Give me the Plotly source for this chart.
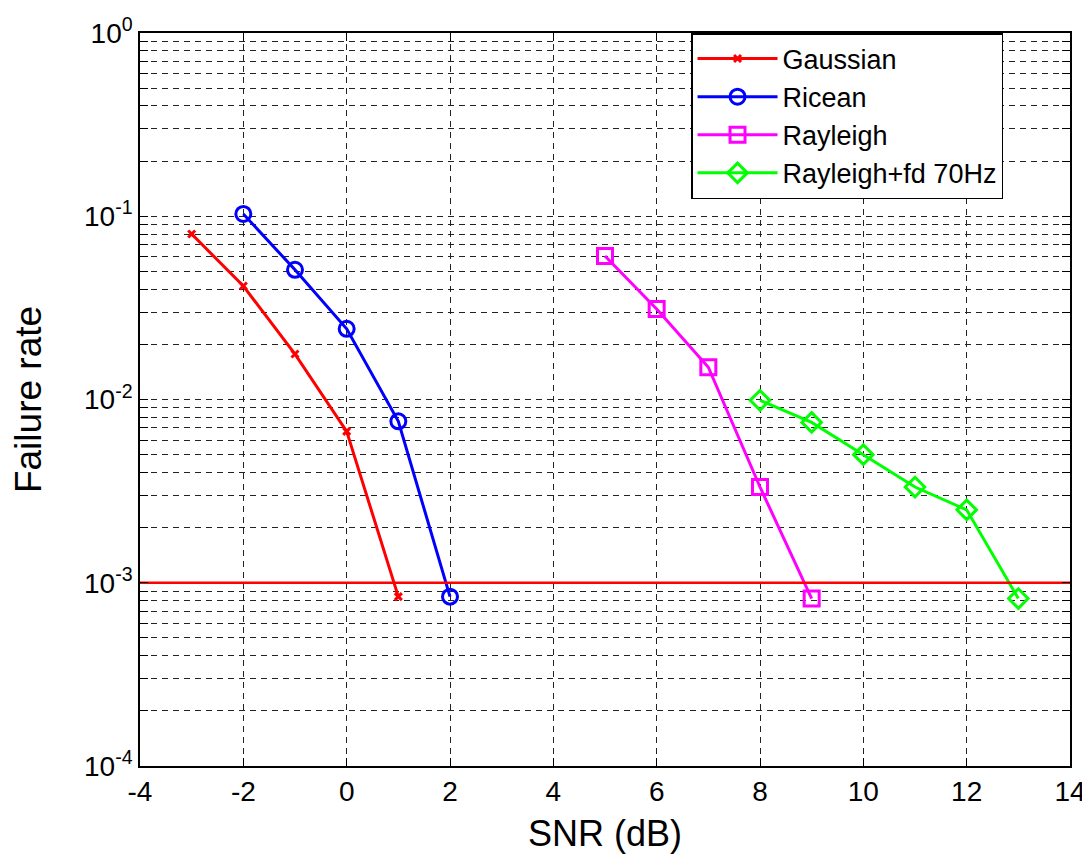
import plotly.graph_objects as go

snr_gauss = [-3, -2, -1, 0, 1]
fail_gauss = [0.080, 0.0416, 0.0177, 0.0067, 0.00084]
snr_ricean = [-2, -1, 0, 1, 2]
fail_ricean = [0.103, 0.051, 0.0243, 0.0076, 0.00084]
snr_rayleigh = [5, 6, 7, 8, 9]
fail_rayleigh = [0.0607, 0.0312, 0.015, 0.00333, 0.00082]
snr_fd = [8, 9, 10, 11, 12, 13]
fail_fd = [0.0099, 0.0075, 0.005, 0.00333, 0.0025, 0.00082]
threshold = 1e-3
x_ticks = [-4, -2, 0, 2, 4, 6, 8, 10, 12, 14]
x_ticklabels = ["-4", "-2", "0", "2", "4", "6", "8", "10", "12", "14"]
decades = [-4, -3, -2, -1, 0]

FONT = "Liberation Sans, Arial, sans-serif"

fig = go.Figure()
series = [
    ("Gaussian", snr_gauss, fail_gauss, "#ff0000", "x-thin-open", 7),
    ("Ricean", snr_ricean, fail_ricean, "#0000ff", "circle-open", 15),
    ("Rayleigh", snr_rayleigh, fail_rayleigh, "#ff00ff", "square-open", 15),
    ("Rayleigh+fd 70Hz", snr_fd, fail_fd, "#00ff00", "diamond-open", 15),
]
for name, x, y, c, sym, sz in series:
    fig.add_trace(go.Scatter(
        x=x, y=y, name=name, mode="lines+markers",
        line=dict(color=c, width=3),
        marker=dict(symbol=sym, size=sz, color=c, line=dict(color=c, width=3)),
    ))

fig.add_trace(go.Scatter(
    x=[x_ticks[0], x_ticks[-1]], y=[threshold, threshold], mode="lines",
    line=dict(color="#ff0000", width=2.5), showlegend=False, hoverinfo="skip",
))

tickvals, ticktext = [], []
for d in decades:
    for m in range(1, 10):
        if d == 0 and m > 1:
            break
        tickvals.append(m * 10 ** d)
        ticktext.append(f"10<sup>{d}</sup>" if m == 1 else "")

# the page body adds an 8px offset; sizes compensate for it
fig.update_layout(
    width=1082, height=846,
    paper_bgcolor="white", plot_bgcolor="white",
    margin=dict(l=132, r=20, t=25, b=88),
    font=dict(family=FONT, color="black", size=28),
    legend=dict(
        x=0.5925, y=1.0, xanchor="left", yanchor="top",
        bordercolor="black", borderwidth=1.5, bgcolor="white",
        font=dict(size=27, family=FONT, color="black"), itemwidth=80,
        tracegroupgap=0,
    ),
    showlegend=True,
)
fig.update_xaxes(
    range=[x_ticks[0], x_ticks[-1]], tickvals=x_ticks, ticktext=x_ticklabels,
    ticks="inside", ticklen=8, tickcolor="black",
    showline=True, linecolor="black", linewidth=1.5, mirror="ticks",
    showgrid=True, gridcolor="#222222", gridwidth=1, griddash="6px,5px",
    zeroline=False, automargin=False,
    tickfont=dict(size=28),
    title=dict(text="SNR (dB)", font=dict(size=36), standoff=14),
)
fig.update_yaxes(
    type="log", range=[-4, 0], tickvals=tickvals, ticktext=ticktext,
    ticks="inside", ticklen=8, tickcolor="black",
    showline=True, linecolor="black", linewidth=1.5, mirror="ticks",
    showgrid=True, gridcolor="#222222", gridwidth=1, griddash="6px,5px",
    zeroline=False, automargin=False,
    tickfont=dict(size=28),
    title=dict(text="Failure rate", font=dict(size=37), standoff=45),
)

fig.write_html("out.html")
